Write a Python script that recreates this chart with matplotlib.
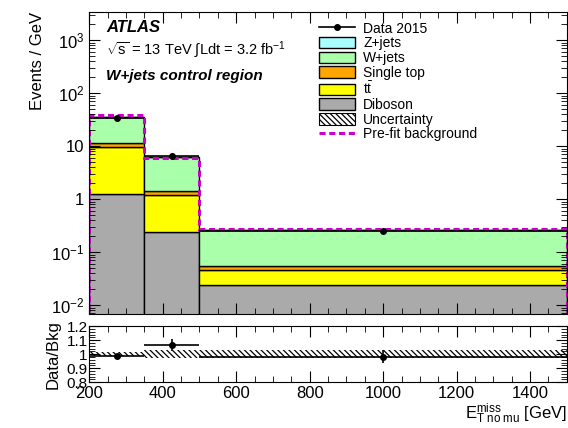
import numpy as np
import matplotlib
matplotlib.use("Agg")
import matplotlib.pyplot as plt
from matplotlib.patches import Patch
from matplotlib.lines import Line2D
from matplotlib.ticker import FixedLocator, LogLocator, MultipleLocator, NullFormatter

plt.rcParams['font.family'] = ['Liberation Sans', 'DejaVu Sans']
plt.rcParams['mathtext.fontset'] = 'custom'
plt.rcParams['mathtext.rm'] = 'Liberation Sans'
plt.rcParams['mathtext.it'] = 'Liberation Sans:italic'
plt.rcParams['mathtext.bf'] = 'Liberation Sans:bold'
plt.rcParams['hatch.linewidth'] = 0.9

# bin edges in GeV
edges = [200, 350, 500, 1500]
centers = [275, 425, 1000]
halfwidths = [75, 75, 500]

# stacked backgrounds (events / GeV), bottom to top
diboson = [1.24, 0.24, 0.024]
ttbar = [8.26, 0.97, 0.022]
single_top = [1.9, 0.23, 0.010]
wjets = [23.4, 4.72, 0.202]
zjets = [0.2, 0.04, 0.002]

prefit = [39.5, 6.0, 0.27]
data = [34.5, 6.6, 0.255]
data_err = [0.6, 0.25, 0.012]
bkg_unc_rel = [0.012, 0.03, 0.03]

names = ["Diboson", "tt", "Single top", "W+jets", "Z+jets"]
colors = ["#aaaaaa", "#ffff00", "#ffa500", "#aaffaa", "#aaffff"]
stack = [diboson, ttbar, single_top, wjets, zjets]

fig = plt.figure(figsize=(5.68, 4.28), dpi=100)
ax = fig.add_axes([0.157, 0.266, 0.841, 0.706])
rax = fig.add_axes([0.157, 0.107, 0.841, 0.131])

bottom = np.full(3, 1e-4)
for vals, c in zip(stack, colors):
    ax.bar(edges[:-1], vals, width=np.diff(edges), bottom=bottom, align='edge',
           color=c, edgecolor='black', linewidth=1.0)
    bottom = bottom + np.array(vals)
total = bottom - 1e-4

# uncertainty band on total
ax.bar(edges[:-1], 2 * total * np.array(bkg_unc_rel), width=np.diff(edges),
       bottom=total * (1 - np.array(bkg_unc_rel)), align='edge', fill=False,
       hatch='\\\\\\\\\\\\', edgecolor='black', linewidth=0)

ax.stairs(prefit, edges, color='#cc00cc', linestyle=(0, (2, 1.2)), linewidth=2.2)
ax.errorbar(centers, data, xerr=halfwidths, yerr=data_err, fmt='o', color='black',
            markersize=4, linewidth=1.2, capsize=0)

ax.set_yscale('log')
ax.set_xlim(200, 1500)
ax.set_ylim(0.0068, 3400)
ax.yaxis.set_major_locator(FixedLocator([1e-2, 1e-1, 1, 10, 1e2, 1e3]))
ax.set_yticklabels(["$10^{-2}$", "$10^{-1}$", "1", "10", "$10^{2}$", "$10^{3}$"])
ax.yaxis.set_minor_locator(LogLocator(base=10, subs=np.arange(2, 10), numticks=20))
ax.yaxis.set_minor_formatter(NullFormatter())
ax.xaxis.set_major_locator(MultipleLocator(200))
ax.xaxis.set_minor_locator(MultipleLocator(50))
ax.set_xticklabels([])
ax.set_ylabel("Events / GeV", fontsize=12, loc='top')

for a in (ax, rax):
    a.tick_params(which='both', direction='in', top=True, right=True, labelsize=12)
    a.tick_params(which='major', length=8)
    a.tick_params(which='minor', length=4)

ax.text(0.035, 0.935, "ATLAS", transform=ax.transAxes, fontsize=12,
        fontweight='bold', style='italic')
ax.text(0.035, 0.86, r"$\sqrt{\rm s}$ = 13 TeV $\int$Ldt = 3.2 fb$^{-1}$",
        transform=ax.transAxes, fontsize=10.5)
ax.text(0.035, 0.775, "W+jets control region", transform=ax.transAxes,
        fontsize=11, fontweight='bold', style='italic')

handles = [Line2D([], [], color='black', marker='o', markersize=4, linewidth=1.2)]
labels = ["Data 2015"]
for n, c in zip(names[::-1], colors[::-1]):
    handles.append(Patch(facecolor=c, edgecolor='black', linewidth=1.0))
    labels.append(r"t$\bar{\rm t}$" if n == "tt" else n)
handles.append(Patch(facecolor='white', edgecolor='black', hatch='\\\\\\\\\\\\', linewidth=0.8))
labels.append("Uncertainty")
handles.append(Line2D([], [], color='#cc00cc', linestyle=(0, (2, 1.2)), linewidth=2.2))
labels.append("Pre-fit background")
ax.legend(handles, labels, loc='upper left', bbox_to_anchor=(0.46, 1.0), frameon=False,
          fontsize=10, handlelength=2.6, handleheight=0.9, labelspacing=0.05,
          handletextpad=0.6, borderaxespad=0.3)

# ratio panel
ratio = np.array(data) / total
ratio_err = np.array(data_err) / total
rax.bar(edges[:-1], 2 * np.array(bkg_unc_rel), width=np.diff(edges),
        bottom=1 - np.array(bkg_unc_rel), align='edge', fill=False,
        hatch='\\\\\\\\\\\\', edgecolor='black', linewidth=0)
rax.errorbar(centers, ratio, xerr=halfwidths, yerr=ratio_err, fmt='o', color='black',
             markersize=4, linewidth=1.2, capsize=0)
rax.set_xlim(200, 1500)
rax.set_ylim(0.8, 1.2)
rax.yaxis.set_major_locator(FixedLocator([0.8, 0.9, 1.0, 1.1, 1.2]))
rax.set_yticklabels(["0.8", "0.9", "1", "1.1", "1.2"])
rax.yaxis.set_minor_locator(MultipleLocator(0.02))
rax.xaxis.set_major_locator(MultipleLocator(200))
rax.xaxis.set_minor_locator(MultipleLocator(50))
rax.tick_params(axis='y', pad=1, labelsize=11)
rax.tick_params(axis='x', pad=3)
rax.set_ylabel("Data/Bkg", fontsize=12)
rax.set_xlabel(r"E$_{\rm T\ no\ mu}^{\rm miss}$ [GeV]", fontsize=12, loc='right', labelpad=0)

fig.savefig("out.png", dpi=100)
